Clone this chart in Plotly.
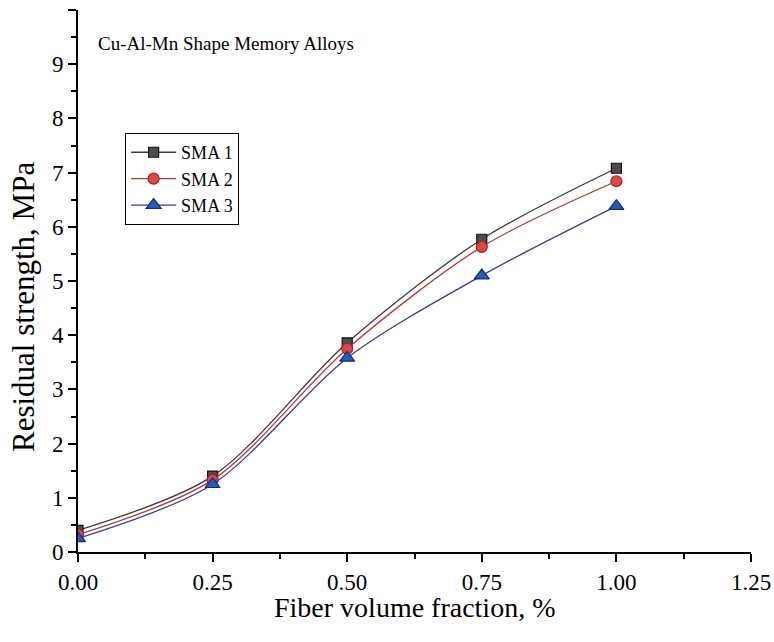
import plotly.graph_objects as go

x_vals = [0.0, 0.25, 0.5, 0.75, 1.0]
sma1 = [0.40, 1.40, 3.86, 5.77, 7.08]
sma2 = [0.32, 1.33, 3.75, 5.63, 6.84]
sma3 = [0.25, 1.25, 3.58, 5.10, 6.38]
series_names = ["SMA 1", "SMA 2", "SMA 3"]
x_ticks = [0.0, 0.25, 0.5, 0.75, 1.0, 1.25]
x_tick_labels = ["0.00", "0.25", "0.50", "0.75", "1.00", "1.25"]
y_ticks = list(range(0, 11))

FONT = "Liberation Serif, Times New Roman, serif"

styles = [
    dict(line="#3a3a3a", fill="#4d4d4d", edge="#111111", symbol="square", size=10),
    dict(line="#b03a3a", fill="#e04646", edge="#a82020", symbol="circle", size=11),
    dict(line="#3a3a9a", fill="#1f5fbf", edge="#14287a", symbol="triangle-up", size=13),
]

fig = go.Figure()
for name, ys, st in zip(series_names, [sma1, sma2, sma3], styles):
    fig.add_trace(go.Scatter(
        x=x_vals, y=ys, name=name, mode="lines+markers",
        line=dict(color=st["line"], width=1.3, shape="spline", smoothing=0.85),
        marker=dict(symbol=st["symbol"], size=st["size"], color=st["fill"],
                    line=dict(color=st["edge"], width=1.2)),
    ))

axis_common = dict(
    showline=True, linecolor="black", linewidth=2,
    ticks="outside", ticklen=8, tickwidth=2, tickcolor="black",
    showgrid=False, zeroline=False, mirror=False, automargin=False,
    tickfont=dict(family=FONT, size=23, color="black"),
)

fig.update_xaxes(
    range=[0, 1.25], tickvals=x_ticks, ticktext=x_tick_labels,
    minor=dict(ticks="outside", ticklen=5, tickwidth=2, tickcolor="black", dtick=0.125, tick0=0),
    **axis_common,
)
fig.update_yaxes(
    range=[0, 10], tickvals=y_ticks,
    minor=dict(ticks="outside", ticklen=5, tickwidth=2, tickcolor="black", dtick=0.5, tick0=0),
    **axis_common,
)

# axis titles as annotations for precise placement
fig.add_annotation(
    x=0.5, y=-0.102, xref="paper", yref="paper", xanchor="center", yanchor="middle",
    text="Fiber volume fraction, %", showarrow=False,
    font=dict(family=FONT, size=28, color="black"),
)
fig.add_annotation(
    x=-0.0817, y=0.452, xref="paper", yref="paper", xanchor="center", yanchor="middle",
    text="Residual strength, MPa", showarrow=False, textangle=-90,
    font=dict(family=FONT, size=31, color="black"),
)

fig.add_annotation(
    x=0.027, y=0.938, xref="paper", yref="paper", xanchor="left", yanchor="middle",
    text="Cu-Al-Mn Shape Memory Alloys", showarrow=False,
    font=dict(family=FONT, size=19, color="black"),
)

fig.update_layout(
    width=774, height=642,
    margin=dict(l=78, r=23, t=10, b=90),
    plot_bgcolor="white", paper_bgcolor="white",
    showlegend=True,
    legend=dict(
        x=0.07, y=0.773, xanchor="left", yanchor="top",
        bordercolor="black", borderwidth=1, bgcolor="white",
        font=dict(family=FONT, size=18, color="black"),
        tracegroupgap=0, itemwidth=45,
    ),
)

fig.write_html("out.html", config={"displayModeBar": False},
               post_script="document.body.style.margin='0px';")
